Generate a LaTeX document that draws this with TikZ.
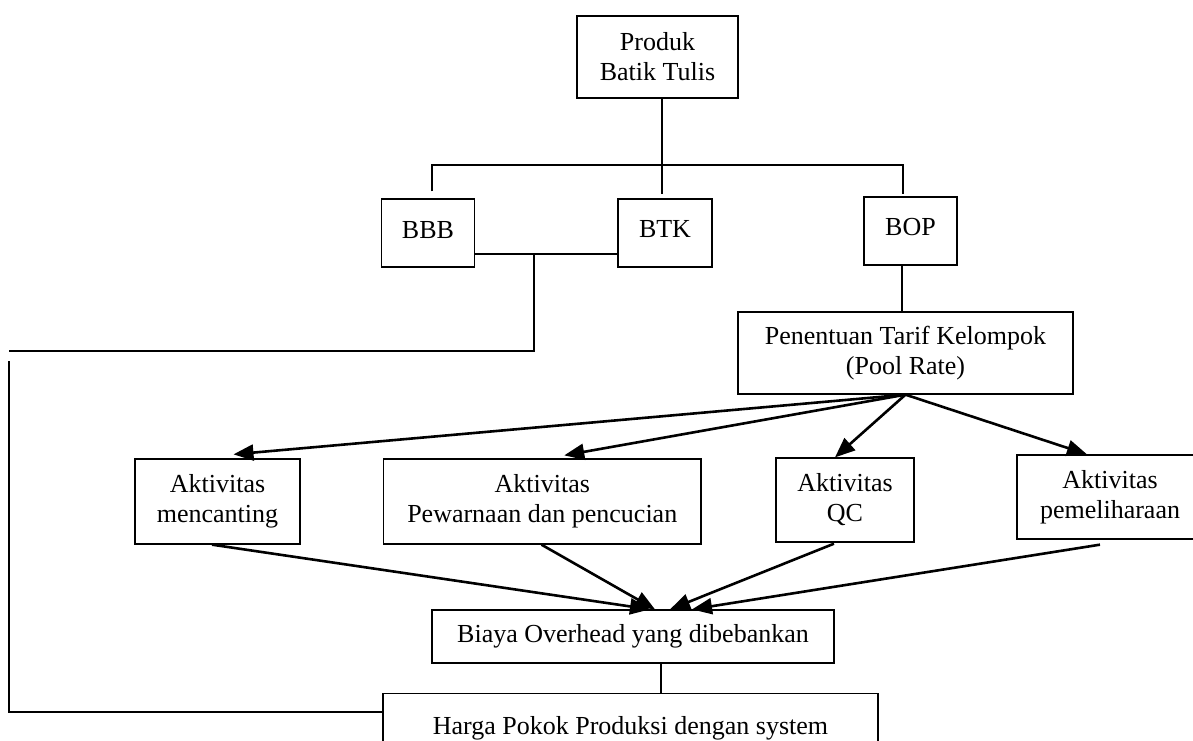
\documentclass[tikz,border=0pt]{standalone}
\usepackage{fontspec}
\setmainfont{Liberation Serif}
\usetikzlibrary{arrows.meta}
\begin{document}
\begin{tikzpicture}[x=1pt,y=-1pt,
  box/.style={draw, line width=1.3pt, inner sep=0pt, align=center,
    font=\fontsize{26}{30}\selectfont},
  link/.style={line width=1.2pt},
  arr/.style={line width=2.6pt, -{Triangle[length=20pt,width=16pt]}}]
\clip (0,0) rectangle (1193,740);
\fill[white] (0,0) rectangle (1193,740);
% boxes
\node[box, minimum width=161pt, minimum height=82pt] (prod) at (657.5,57) {Produk\\Batik Tulis};
\node[box, minimum width=93pt, minimum height=68pt] (bbb) at (428,233) {\raisebox{7pt}{BBB}};
\node[box, minimum width=94pt, minimum height=68pt] (btk) at (665,233) {\raisebox{8pt}{BTK}};
\node[box, minimum width=93pt, minimum height=68pt] (bop) at (910.5,231) {\raisebox{8pt}{BOP}};
\node[box, minimum width=335pt, minimum height=82pt] (pool) at (905.5,353) {Penentuan Tarif Kelompok\\(Pool Rate)};
\node[box, minimum width=165pt, minimum height=85pt] (menc) at (217.5,501.5) {Aktivitas\\mencanting};
\node[box, minimum width=317.5pt, minimum height=85pt] (pew) at (542.25,501.5) {Aktivitas\\Pewarnaan dan pencucian};
\node[box, minimum width=138pt, minimum height=84pt] (qc) at (845,500) {Aktivitas\\QC};
\node[box, minimum width=206pt, minimum height=84pt] (pem) at (1120,497)
  {\begin{tabular}{@{}c@{}}Aktivitas\\pemeliharaan\end{tabular}\hspace*{20pt}};
\node[box, minimum width=402pt, minimum height=53pt] (biaya) at (633,636.5) {Biaya Overhead yang dibebankan};
\node[box, minimum width=495pt, minimum height=90pt, anchor=north, text depth=0pt] (harga) at (630.5,693)
  {\raisebox{27pt}{Harga Pokok Produksi dengan system}};
% coordinates
\coordinate (hr) at (903,165);
\coordinate (j) at (534,254);
\coordinate (jl) at (9,351);
\coordinate (ls) at (9,361);
% tree connectors
\draw[link] ([xshift=4.5pt]prod.south) -- ([xshift=-3pt,yshift=4pt]btk.north);
\draw[link] ([xshift=4pt,yshift=7pt]bbb.north) |- (hr) -- ([xshift=-7.5pt,yshift=2pt]bop.north);
\draw[link] ([yshift=-21pt]bbb.east) -- ([yshift=-21pt]btk.west);
\draw[link] (j) |- (jl);
\draw[link] (ls) |- ([yshift=-19pt]harga.north west);
\draw[link] ([xshift=-8.5pt]bop.south) -- ([xshift=-3.5pt]pool.north);
\draw[link] ([xshift=28pt]biaya.south) -- ([xshift=30.5pt]harga.north);
% arrows from pool
\draw[arr] (pool.south) -- ([xshift=16pt,yshift=4pt]menc.north);
\draw[arr] (pool.south) -- ([xshift=22pt,yshift=3pt]pew.north);
\draw[arr] (pool.south) -- ([xshift=-10pt]qc.north);
\draw[arr] (pool.south) -- ([xshift=-33pt]pem.north);
% arrows to biaya
\draw[arr] ([xshift=-5.5pt]menc.south) -- ([xshift=17pt]biaya.north);
\draw[arr] ([xshift=-0.75pt]pew.south) -- ([xshift=22pt]biaya.north);
\draw[arr] ([xshift=-11pt,yshift=-1pt]qc.south) -- ([xshift=37pt]biaya.north);
\draw[arr] ([xshift=-20pt,yshift=-5pt]pem.south) -- ([xshift=59pt]biaya.north);
\end{tikzpicture}
\end{document}
